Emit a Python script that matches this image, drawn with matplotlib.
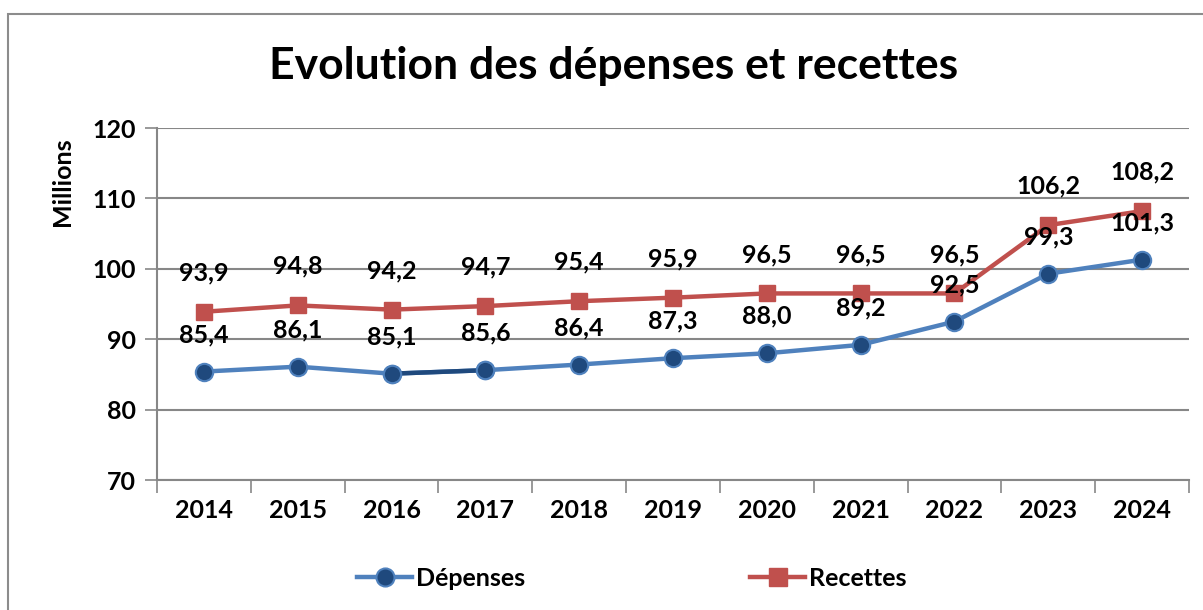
import matplotlib
matplotlib.use("Agg")
import matplotlib.pyplot as plt
from matplotlib.patches import Rectangle
from matplotlib.lines import Line2D

years = ["2014", "2015", "2016", "2017", "2018", "2019", "2020", "2021", "2022", "2023", "2024"]
depenses = [85.4, 86.1, 85.1, 85.6, 86.4, 87.3, 88.0, 89.2, 92.5, 99.3, 101.3]
recettes = [93.9, 94.8, 94.2, 94.7, 95.4, 95.9, 96.5, 96.5, 96.5, 106.2, 108.2]
title = "Evolution des dépenses et recettes"
ylabel = "Millions"

plt.rcParams['font.family'] = ['Lato', 'DejaVu Sans']
plt.rcParams['font.weight'] = 'bold'

BLUE = "#4F81BD"
DBLUE = "#1F497D"
RED = "#C0504D"
GRID = "#878787"

fig = plt.figure(figsize=(12.03, 6.10), dpi=100)
fig.patches.append(Rectangle((8/1203, -0.1), 1.2, (610-14)/610 + 0.1, transform=fig.transFigure,
                             fill=False, edgecolor="#8c8c8c", linewidth=1.5))

ax = fig.add_axes([157/1203, 1-480/610, (1189-157)/1203, (480-128)/610])
x = list(range(len(years)))

ax.plot(x, depenses, color=BLUE, lw=3.2, marker='o', ms=12.5, mfc=DBLUE, mec=BLUE, mew=1.5, zorder=3)
ax.plot(x[2:4], depenses[2:4], color=DBLUE, lw=3.2, zorder=3.5, solid_capstyle='butt')
ax.plot(x[2:4], depenses[2:4], ls='none', marker='o', ms=12.5, mfc=DBLUE, mec=BLUE, mew=1.5, zorder=4)
ax.plot(x, recettes, color=RED, lw=3.2, marker='s', ms=12, mfc=RED, mec=RED, zorder=3)

def fmt(v):
    return f"{v:.1f}".replace(".", ",")

for xi, v in zip(x, depenses):
    ax.annotate(fmt(v), (xi, v), textcoords='offset pixels', xytext=(0, 37), ha='center', va='center',
                fontsize=18, fontweight='bold', zorder=6)
for xi, v in zip(x, recettes):
    ax.annotate(fmt(v), (xi, v), textcoords='offset pixels', xytext=(0, 39), ha='center', va='center',
                fontsize=18, fontweight='bold', zorder=6)

ax.set_xlim(-0.5, len(years) - 0.5)
ax.set_ylim(70, 120)
ax.set_yticks(range(70, 121, 10))
ax.set_xticks(x)
ax.set_xticklabels(years)
ax.set_xticks([i - 0.5 for i in range(len(years) + 1)], minor=True)
ax.tick_params(axis='x', which='major', length=0, pad=14, labelsize=18)
ax.tick_params(axis='x', which='minor', length=9, color=GRID, width=1.2)
ax.tick_params(axis='y', length=9, color=GRID, width=1.2, labelsize=18, pad=6)
for lab in ax.get_xticklabels() + ax.get_yticklabels():
    lab.set_fontweight('bold')
ax.yaxis.grid(True, color=GRID, lw=1.5)
ax.set_axisbelow(True)
for s in ['top', 'right']:
    ax.spines[s].set_visible(False)
for s in ['left', 'bottom']:
    ax.spines[s].set_color(GRID)
    ax.spines[s].set_linewidth(1.5)

fig.text(62/1203, 1-182/610, ylabel, rotation=90, ha='center', va='center', fontsize=18, fontweight='bold')
fig.text(614/1203, 1-79/610, title, ha='center', va='baseline', fontsize=32, fontweight='bold')

handles = [Line2D([], [], color=BLUE, lw=3.2, marker='o', ms=13, mfc=DBLUE, mec=BLUE, mew=1.5),
           Line2D([], [], color=RED, lw=3.2, marker='s', ms=13, mfc=RED, mec=RED)]
fig.legend(handles, ["Dépenses", "Recettes"], loc='center', bbox_to_anchor=(632/1203, 1-578/610),
           ncol=2, frameon=False, handlelength=2.2, handletextpad=0.15, columnspacing=9,
           prop={'weight': 'bold', 'size': 18})

fig.savefig("out.png", dpi=100)
